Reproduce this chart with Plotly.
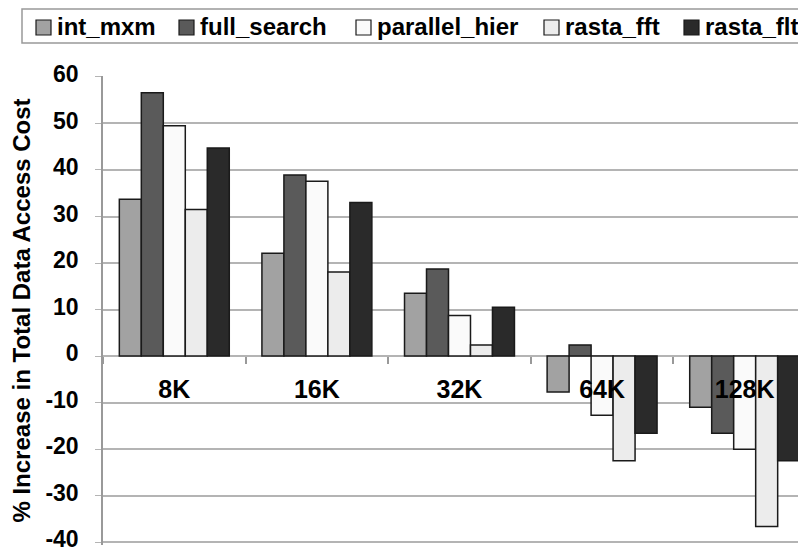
import plotly.graph_objects as go

categories = ["8K", "16K", "32K", "64K", "128K"]
series_names = ["int_mxm", "full_search", "parallel_hier", "rasta_fft", "rasta_flt"]
int_mxm = [33.7, 22.1, 13.5, -7.7, -11.0]
full_search = [56.6, 38.9, 18.7, 2.4, -16.6]
parallel_hier = [49.5, 37.6, 8.7, -12.7, -20.0]
rasta_fft = [31.5, 18.1, 2.4, -22.5, -36.6]
rasta_flt = [44.7, 33.0, 10.5, -16.6, -22.5]
y_ticks = [60, 50, 40, 30, 20, 10, 0, -10, -20, -30, -40]
y_tick_labels = ["60", "50", "40", "30", "20", "10", "0", "-10", "-20", "-30", "-40"]

values = [int_mxm, full_search, parallel_hier, rasta_fft, rasta_flt]
colors = ["#a2a2a2", "#5a5a5a", "#fafafa", "#ececec", "#2a2a2a"]

FONT = "Liberation Sans, Arial, sans-serif"
OFF = 8  # page body margin
W, H = 806 - OFF, 550 - OFF
Y_RANGE = [-40.6, 60.2]
# plot area in page pixels: x 103..806, y 76..545
ML, MR, MT, MB = 103 - OFF, 0, 76 - OFF, 5
PW, PH = W - ML - MR, H - MT - MB


def px(x):  # page pixel -> paper
    return (x - OFF - ML) / PW


def py(y):  # page pixel -> paper
    return (H - MB - (y - OFF)) / PH


fig = go.Figure()
for name, vals, col in zip(series_names, values, colors):
    fig.add_trace(go.Bar(
        name=name, x=categories, y=vals,
        marker=dict(color=col, line=dict(color="#1a1a1a", width=1.5)),
        showlegend=False,
    ))

# manual legend (box, swatches, labels)
legend_text_x = [57, 200, 377, 565, 705]
shapes = [dict(type="rect", xref="paper", yref="paper",
               x0=px(22), x1=px(830), y0=py(43), y1=py(9),
               line=dict(color="#999999", width=1.5), fillcolor="white", layer="above")]
annotations = []
for name, col, tx in zip(series_names, colors, legend_text_x):
    shapes.append(dict(type="rect", xref="paper", yref="paper",
                       x0=px(tx - 21), x1=px(tx - 6), y0=py(35), y1=py(20),
                       line=dict(color="#1a1a1a", width=1.2), fillcolor=col, layer="above"))
    annotations.append(dict(xref="paper", yref="paper", x=px(tx - 1), y=py(27),
                            xanchor="left", yanchor="middle", showarrow=False,
                            text=name, borderpad=0,
                            font=dict(family=FONT, size=24, color="black", weight="bold")))

zero_pos = (0 - Y_RANGE[0]) / (Y_RANGE[1] - Y_RANGE[0])

fig.update_layout(
    width=W, height=H,
    margin=dict(l=ML, r=MR, t=MT, b=MB, autoexpand=False),
    paper_bgcolor="white", plot_bgcolor="white",
    barmode="group", bargap=0.229, bargroupgap=0,
    font=dict(family=FONT, color="black"),
    showlegend=False,
    shapes=shapes, annotations=annotations,
    xaxis=dict(
        type="category", range=[-0.5, 4.43],
        anchor="free", position=zero_pos, automargin=False,
        showline=False, showgrid=False, zeroline=False,
        ticks="outside", tickson="boundaries", ticklen=7,
        tickcolor="#999999", tickwidth=1.5,
        tickfont=dict(family=FONT, size=25, color="black", weight="bold"),
        ticklabelstandoff=16, ticklabeloverflow="allow",
    ),
    yaxis=dict(
        range=Y_RANGE, tickmode="array", tickvals=y_ticks, ticktext=y_tick_labels,
        automargin=False, ticklabeloverflow="allow", ticklabelshift=-3,
        showgrid=True, gridcolor="#b4b4b4", gridwidth=1.5,
        zeroline=True, zerolinecolor="#b4b4b4", zerolinewidth=1.5,
        showline=True, linecolor="#999999", linewidth=1.5,
        ticks="outside", ticklen=6, tickcolor="#b4b4b4",
        ticklabelstandoff=12,
        tickfont=dict(family=FONT, size=23, color="black", weight="bold"),
        title=dict(text="% Increase in Total Data Access Cost",
                   font=dict(family=FONT, size=24, color="black", weight="bold"),
                   standoff=8),
    ),
)

fig.write_html("out.html")
